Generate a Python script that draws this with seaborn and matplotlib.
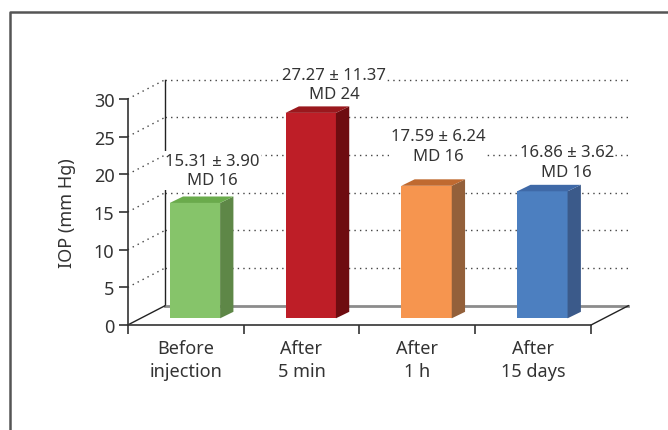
import matplotlib
matplotlib.use("Agg")
import matplotlib.pyplot as plt
import matplotlib.transforms as mtransforms
from matplotlib.patches import Polygon
from matplotlib.lines import Line2D
import seaborn as sns
import pandas as pd

# data
categories = ["Before\ninjection", "After\n5 min", "After\n1 h", "After\n15 days"]
iop_mean = [15.31, 27.27, 17.59, 16.86]
iop_sd = [3.90, 11.37, 6.24, 3.62]
iop_md = [16, 24, 16, 16]

front_colors = ["#86c46a", "#be1e27", "#f6954f", "#4c7fc0"]
side_colors = ["#5e8747", "#6e0c10", "#93603a", "#3b5a8a"]
top_colors = ["#6aab4c", "#9a181d", "#c06a30", "#3f69a7"]

# where the value labels sit (relative to category centre / absolute y)
label_dx = [0.23, 0.28, 0.18, 0.29]
label_y = [20.5, 31.9, 23.8, 21.6]

df = pd.DataFrame({"cat": categories, "iop": iop_mean})

# pseudo-3d geometry (data units)
DX, DY = 0.322, 2.56        # depth of the whole plot box
SHX, SHY = 0.08, 0.89       # bar front face pushed back
BDX, BDY = 0.115, 0.86      # bar depth
txt = "#333333"
plt.rcParams["font.family"] = ["Noto Sans", "DejaVu Sans"]

fig = plt.figure(figsize=(6.68, 4.31), dpi=100)
ax = fig.add_axes([0.1912, 0.2436, 0.7494, 0.5691])

sns.barplot(data=df, x="cat", y="iop", hue="cat", palette=front_colors,
            width=0.435, saturation=1, legend=False, ax=ax, zorder=3)

ax.set_xlim(-0.5, 3.5 + DX)
ax.set_ylim(0, 30 + DY)

off = mtransforms.Affine2D().translate(SHX, SHY) + ax.transData

for i, p in enumerate(ax.patches[:len(categories)]):
    x0, w, h = p.get_x(), p.get_width(), p.get_height()
    p.set_transform(off)
    p.set_clip_on(False)
    side = Polygon([(x0 + w, 0), (x0 + w + BDX, BDY), (x0 + w + BDX, h + BDY), (x0 + w, h)],
                   closed=True, facecolor=side_colors[i], edgecolor="none",
                   transform=off, zorder=3, clip_on=False)
    top = Polygon([(x0, h), (x0 + BDX, h + BDY), (x0 + w + BDX, h + BDY), (x0 + w, h)],
                  closed=True, facecolor=top_colors[i], edgecolor="none",
                  transform=off, zorder=3, clip_on=False)
    ax.add_patch(side)
    ax.add_patch(top)

# back wall grid and diagonals
dots = (0, (1, 3))
for v in range(5, 31, 5):
    ax.plot([-0.5 + DX, 3.5 + DX], [v + DY, v + DY], color="#444444", lw=1,
            ls=dots, zorder=1, clip_on=False)
    ax.plot([-0.5, -0.5 + DX], [v, v + DY], color="#444444", lw=1,
            ls=dots, zorder=1, clip_on=False)
ax.plot([-0.5 + DX, -0.5 + DX], [DY, 30 + DY], color="#222222", lw=1, zorder=1, clip_on=False)
ax.plot([-0.5 + DX, 3.5 + DX], [DY, DY], color="#8c8c8c", lw=2, zorder=1, clip_on=False)
ax.plot([-0.5, -0.5 + DX], [0, DY], color="#222222", lw=1, zorder=2, clip_on=False)
ax.plot([3.5, 3.5 + DX], [0, DY], color="#222222", lw=1, zorder=2, clip_on=False)

# value labels
for i in range(len(categories)):
    ax.text(i + label_dx[i], label_y[i],
            f"{iop_mean[i]:.2f} \u00b1 {iop_sd[i]:.2f}\nMD {iop_md[i]}",
            ha="center", va="center", fontsize=12, color=txt, linespacing=1.3,
            bbox=dict(facecolor="white", edgecolor="none", pad=1), zorder=4)

# axes styling
for s in ["top", "right"]:
    ax.spines[s].set_visible(False)
ax.spines["left"].set_bounds(0, 30)
ax.spines["bottom"].set_bounds(-0.5, 3.5)
for s in ["left", "bottom"]:
    ax.spines[s].set_color("#333333")
    ax.spines[s].set_linewidth(1.2)
    ax.spines[s].set_zorder(5)

ax.set_yticks(range(0, 31, 5))
ax.tick_params(axis="y", length=6.5, width=1.2, color="#333333", labelsize=13,
               labelcolor=txt, pad=3)
ax.set_xticks([-0.5, 0.5, 1.5, 2.5, 3.5])
ax.set_xticklabels([])
ax.set_xticks(range(len(categories)), minor=True)
ax.set_xticklabels(categories, minor=True)
ax.tick_params(axis="x", which="major", length=6.5, width=1.2, color="#333333")
ax.tick_params(axis="x", which="minor", length=0, labelsize=13, labelcolor=txt, pad=10)
for t in ax.get_xticklabels(minor=True):
    t.set_linespacing(1.4)

ax.set_xlabel("")
ax.set_ylabel("IOP (mm Hg)", fontsize=13, color=txt)
ax.yaxis.set_label_coords(-0.104, 0.46)

# outer frame (cut off on right and bottom)
fx, fy = 10 / 668, 1 - 13 / 431
fig.add_artist(Line2D([fx, fx, 1], [0, fy, fy], color="#555555", lw=1.8,
                      transform=fig.transFigure))

fig.savefig("out.png", dpi=100)
